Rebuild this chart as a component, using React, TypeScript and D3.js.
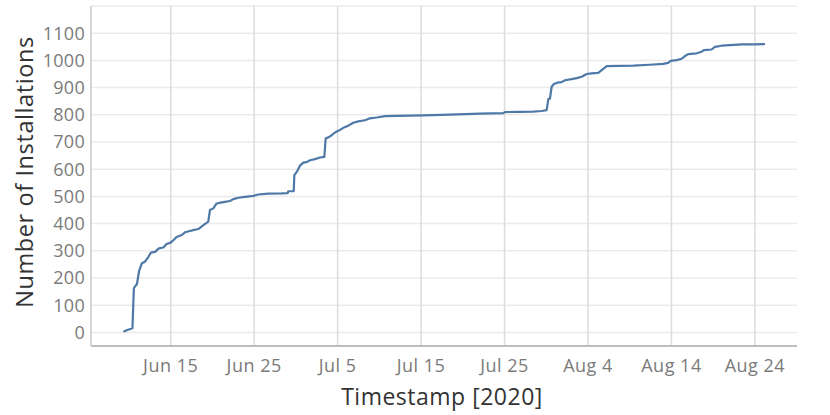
import React from "react";
import * as d3 from "d3";

const timestamps = [
  "2020-06-09T08:00", "2020-06-09T17:30", "2020-06-10T10:00", "2020-06-10T14:00", "2020-06-10T17:00",
  "2020-06-10T23:00", "2020-06-11T05:00", "2020-06-11T13:00", "2020-06-11T22:00", "2020-06-12T08:00",
  "2020-06-12T15:00", "2020-06-13T03:00", "2020-06-13T14:00", "2020-06-14T03:00", "2020-06-14T12:00",
  "2020-06-15T00:00", "2020-06-15T07:30", "2020-06-15T17:00", "2020-06-16T08:00", "2020-06-16T17:00",
  "2020-06-17T04:30", "2020-06-17T17:00", "2020-06-18T07:30", "2020-06-18T22:00", "2020-06-19T12:00",
  "2020-06-19T17:00", "2020-06-20T02:30", "2020-06-20T12:00", "2020-06-21T03:00", "2020-06-21T12:00",
  "2020-06-22T02:30", "2020-06-22T12:00", "2020-06-23T02:30", "2020-06-23T21:40", "2020-06-24T21:40",
  "2020-06-25T12:00", "2020-06-26T16:30", "2020-06-28T07:00", "2020-06-29T00:30", "2020-06-29T02:00",
  "2020-06-29T17:45", "2020-06-29T19:30", "2020-06-30T02:30", "2020-06-30T11:45", "2020-06-30T21:20",
  "2020-07-01T07:00", "2020-07-01T16:30", "2020-07-02T07:00", "2020-07-02T21:20", "2020-07-03T09:40",
  "2020-07-03T13:40", "2020-07-03T21:10", "2020-07-04T07:00", "2020-07-04T16:30", "2020-07-05T02:00",
  "2020-07-05T16:20", "2020-07-06T06:40", "2020-07-06T21:00", "2020-07-07T11:30", "2020-07-08T06:40",
  "2020-07-08T21:00", "2020-07-09T16:20", "2020-07-10T16:00", "2020-07-12T02:00", "2020-07-15T06:20",
  "2020-07-18T11:00", "2020-07-22T01:30", "2020-07-24T20:20", "2020-07-25T01:10", "2020-07-26T20:20",
  "2020-07-28T10:30", "2020-07-29T10:50", "2020-07-30T01:10", "2020-07-30T05:45", "2020-07-30T10:35",
  "2020-07-30T15:30", "2020-07-30T22:00", "2020-07-31T07:40", "2020-07-31T20:10", "2020-08-01T05:40",
  "2020-08-02T01:00", "2020-08-02T15:20", "2020-08-03T05:45", "2020-08-03T20:10", "2020-08-04T10:30",
  "2020-08-05T05:30", "2020-08-05T15:20", "2020-08-06T05:40", "2020-08-07T19:50", "2020-08-09T10:10",
  "2020-08-11T10:10", "2020-08-13T00:20", "2020-08-13T14:40", "2020-08-13T21:40", "2020-08-14T15:00",
  "2020-08-15T05:20", "2020-08-15T14:50", "2020-08-16T00:15", "2020-08-17T00:30", "2020-08-17T14:50",
  "2020-08-17T21:20", "2020-08-18T19:30", "2020-08-19T05:00", "2020-08-20T00:15", "2020-08-21T00:00",
  "2020-08-22T09:50", "2020-08-23T19:10", "2020-08-25T04:50",
];

const installations = [
  2, 8, 15, 162, 168,
  178, 225, 254, 260, 278,
  293, 296, 309, 312, 325,
  330, 339, 351, 358, 368,
  372, 376, 380, 394, 407,
  450, 456, 474, 478, 480,
  483, 490, 495, 498, 502,
  507, 510, 511, 512, 519,
  519, 578, 590, 613, 624,
  626, 633, 637, 643, 645,
  713, 717, 725, 735, 741,
  752, 760, 771, 776, 780,
  787, 790, 795, 796, 798,
  801, 804, 806, 810, 811,
  812, 814, 817, 857, 860,
  903, 913, 918, 920, 927,
  931, 935, 940, 950, 952,
  954, 964, 979, 980, 981,
  984, 987, 991, 998, 1001,
  1006, 1016, 1023, 1026, 1032,
  1038, 1040, 1050, 1054, 1056,
  1059, 1059, 1060,
];

const xTickDates = ["2020-06-15", "2020-06-25", "2020-07-05", "2020-07-15", "2020-07-25", "2020-08-04", "2020-08-14", "2020-08-24"];
const yTickValues = [0, 100, 200, 300, 400, 500, 600, 700, 800, 900, 1000, 1100];
const yGridValues = [...yTickValues, 1200];
const xDomain = ["2020-06-05T10:48", "2020-08-29T01:00"];
const yDomain = [-50, 1200];

const parseT = (s: string) => {
  const [d, t] = s.split("T");
  const [Y, M, D] = d.split("-").map(Number);
  const [h, m] = (t || "00:00").split(":").map(Number);
  return new Date(Date.UTC(Y, M - 1, D, h, m));
};

const W = 830, H = 415;
const left = 91, right = 797, top = 6, bottom = 346;
const FONT = "'Open Sans', 'DejaVu Sans', sans-serif";

export default function App() {
  const x = d3.scaleUtc().domain(xDomain.map(parseT)).range([left, right]);
  const y = d3.scaleLinear().domain(yDomain).range([bottom, top]);
  const data = timestamps.map((t, i) => ({ t: parseT(t), v: installations[i] }));
  const line = d3.line<{ t: Date; v: number }>().x((d) => x(d.t)).y((d) => y(d.v));
  const fmt = d3.utcFormat("%b %-d");

  return (
    <svg width={W} height={H} style={{ position: "absolute", left: 0, top: 0, background: "#fff" }}>
      {yGridValues.map((v) => (
        <line key={"gy" + v} x1={left} x2={right} y1={y(v)} y2={y(v)} stroke="#ebebeb" strokeWidth={1.5} />
      ))}
      {xTickDates.map((d) => (
        <line key={"gx" + d} x1={x(parseT(d))} x2={x(parseT(d))} y1={top} y2={bottom} stroke="#dcdcdc" strokeWidth={1.5} />
      ))}
      <line x1={left} x2={left} y1={top} y2={bottom} stroke="#c8c8c8" strokeWidth={1.5} />
      <line x1={left} x2={right} y1={bottom} y2={bottom} stroke="#bdbdbd" strokeWidth={2} />
      <path d={line(data) || ""} fill="none" stroke="#4e79a7" strokeWidth={2.2} strokeLinejoin="round" />
      {yTickValues.map((v) => (
        <text key={"ty" + v} x={85} y={y(v)} dy="0.36em" textAnchor="end" fontFamily={FONT} fontSize={18} letterSpacing={0.3} fill="#7a7a7a">
          {v}
        </text>
      ))}
      {xTickDates.map((d) => (
        <text key={"tx" + d} x={x(parseT(d))} y={372} textAnchor="middle" fontFamily={FONT} fontSize={18} letterSpacing={0.5} fill="#7a7a7a">
          {fmt(parseT(d))}
        </text>
      ))}
      <text x={(left + right) / 2 - 2} y={405} textAnchor="middle" fontFamily={FONT} fontSize={23} letterSpacing={0.5} fill="#333">
        Timestamp [2020]
      </text>
      <text transform={`translate(33,${(top + bottom) / 2 - 4}) rotate(-90)`} textAnchor="middle" fontFamily={FONT} fontSize={23.5} letterSpacing={0.6} fill="#333">
        Number of Installations
      </text>
    </svg>
  );
}
